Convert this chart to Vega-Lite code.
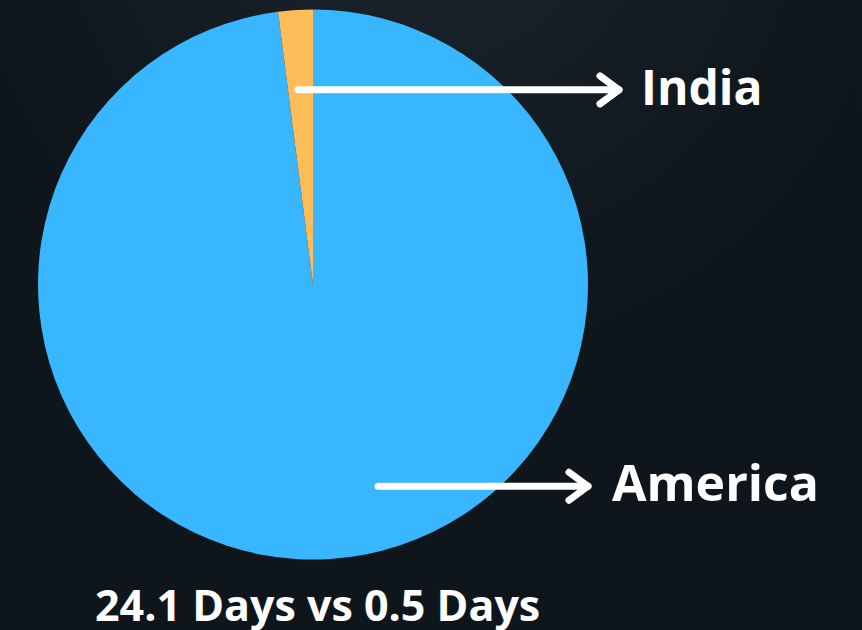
{
  "$schema": "https://vega.github.io/schema/vega-lite/v6.json",
  "width": 862,
  "height": 630,
  "autosize": {"type": "fit", "contains": "padding"},
  "padding": 0,
  "background": "#0e161c",
  "config": {"view": {"stroke": null}},
  "datasets": {
    "bg": [{"x0": 0, "x1": 862, "y0": 0, "y1": 630}],
    "pie": [
      {"country": "America", "days": 24.1, "cx": 313, "cy": 285},
      {"country": "India", "days": 0.5, "cx": 313, "cy": 285}
    ],
    "arrows": [
      {"seg": "india_shaft", "px": 298, "py": 90, "o": 0},
      {"seg": "india_shaft", "px": 619, "py": 90, "o": 1},
      {"seg": "india_head", "px": 600, "py": 76, "o": 0},
      {"seg": "india_head", "px": 619, "py": 90, "o": 1},
      {"seg": "india_head", "px": 600, "py": 104, "o": 2},
      {"seg": "america_shaft", "px": 378, "py": 487, "o": 0},
      {"seg": "america_shaft", "px": 588, "py": 487, "o": 1},
      {"seg": "america_head", "px": 569, "py": 473, "o": 0},
      {"seg": "america_head", "px": 588, "py": 487, "o": 1},
      {"seg": "america_head", "px": 569, "py": 501, "o": 2}
    ],
    "labels": [
      {"label": "India", "lx": 641, "ly": 105, "size": 48},
      {"label": "America", "lx": 612, "ly": 502, "size": 50},
      {"label": "24.1 Days vs 0.5 Days", "lx": 95, "ly": 622, "size": 43}
    ]
  },
  "layer": [
    {
      "data": {"name": "bg"},
      "mark": {"type": "rect", "fill": {"gradient": "radial", "x1": 0.5, "y1": 0.0, "r1": 0, "x2": 0.5, "y2": 0.0, "r2": 0.8, "stops": [{"offset": 0, "color": "#1b262c"}, {"offset": 0.6, "color": "#0f171d"}, {"offset": 1, "color": "#0e161c"}]}},
      "encoding": {
        "x": {"field": "x0", "type": "quantitative", "scale": {"domain": [0, 862], "nice": false, "zero": false}, "axis": null},
        "x2": {"field": "x1"},
        "y": {"field": "y0", "type": "quantitative", "scale": {"domain": [0, 630], "nice": false, "zero": false, "reverse": true}, "axis": null},
        "y2": {"field": "y1"}
      }
    },
    {
      "data": {"name": "pie"},
      "mark": {"type": "arc", "outerRadius": 275, "stroke": null},
      "encoding": {
        "theta": {"field": "days", "type": "quantitative", "stack": true},
        "order": {"field": "days", "sort": "descending"},
        "x": {"field": "cx", "type": "quantitative", "scale": {"domain": [0, 862], "nice": false, "zero": false}, "axis": null},
        "y": {"field": "cy", "type": "quantitative", "scale": {"domain": [0, 630], "nice": false, "zero": false, "reverse": true}, "axis": null},
        "color": {"field": "country", "type": "nominal", "scale": {"domain": ["America", "India"], "range": ["#38b6ff", "#ffbd59"]}, "legend": null}
      }
    },
    {
      "data": {"name": "arrows"},
      "mark": {"type": "line", "color": "#ffffff", "strokeWidth": 7, "strokeCap": "round", "strokeJoin": "round"},
      "encoding": {
        "x": {"field": "px", "type": "quantitative", "scale": {"domain": [0, 862], "nice": false, "zero": false}, "axis": null},
        "y": {"field": "py", "type": "quantitative", "scale": {"domain": [0, 630], "nice": false, "zero": false, "reverse": true}, "axis": null},
        "detail": {"field": "seg"},
        "order": {"field": "o"}
      }
    },
    {
      "data": {"name": "labels"},
      "mark": {"type": "text", "color": "#ffffff", "font": "Open Sans", "fontWeight": "bold", "align": "left", "baseline": "alphabetic"},
      "encoding": {
        "x": {"field": "lx", "type": "quantitative", "scale": {"domain": [0, 862], "nice": false, "zero": false}, "axis": null},
        "y": {"field": "ly", "type": "quantitative", "scale": {"domain": [0, 630], "nice": false, "zero": false, "reverse": true}, "axis": null},
        "text": {"field": "label"},
        "size": {"field": "size", "type": "quantitative", "scale": null}
      }
    }
  ]
}
